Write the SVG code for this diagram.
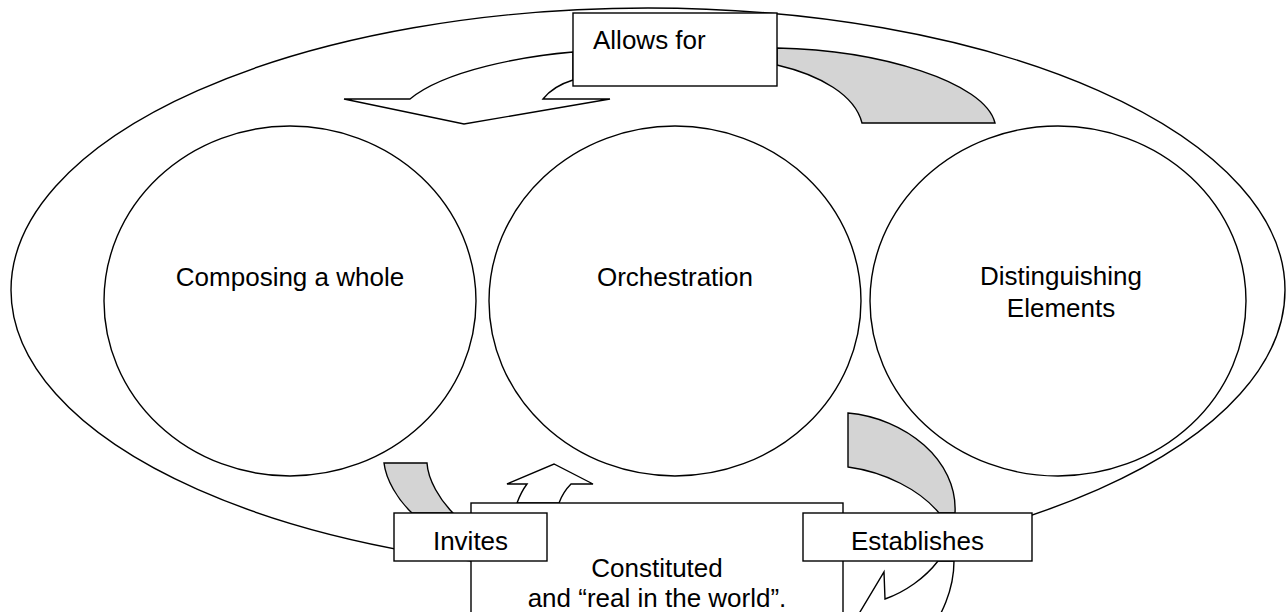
<svg xmlns="http://www.w3.org/2000/svg" width="1286" height="612" viewBox="0 0 1286 612">
<style>
.ln{fill:none;stroke:#000;stroke-width:1.4}
.wf{fill:#fff;stroke:#000;stroke-width:1.4;stroke-linejoin:miter}
.gf{fill:#d4d4d4;stroke:#000;stroke-width:1.4}
.t{font-family:"Liberation Sans",Arial,Helvetica,sans-serif;font-size:26px;fill:#000}
.c{text-anchor:middle}
</style>
<rect x="0" y="0" width="1286" height="612" fill="#fff"/>
<g id="outer">
<ellipse class="ln" cx="648" cy="290" rx="637" ry="282"/>
</g>
<g id="composing">
<ellipse class="wf" cx="290" cy="301" rx="186" ry="175"/>
<text class="t c" x="290" y="286">Composing a whole</text>
</g>
<g id="orchestration">
<ellipse class="wf" cx="675" cy="301" rx="186" ry="175"/>
<text class="t c" x="675" y="286">Orchestration</text>
</g>
<g id="distinguishing">
<ellipse class="wf" cx="1058" cy="301" rx="188" ry="175"/>
<text class="t c" x="1061" y="285">Distinguishing</text>
<text class="t c" x="1061" y="317">Elements</text>
</g>
<g id="connectors">
<path class="wf" d="M573,52 C525,56 445,70 410,99 L344,99 L464,124 L610,99 L543,99 C550,90 560,84 573,80 Z"/>
<path class="gf" d="M777,48 C880,50 985,82 995,123 L862,123 C855,95 820,75 777,65 Z"/>
<path class="gf" d="M384,463 L427,463 C428,480 440,500 453,513 L412,513 C398,500 386,480 384,463 Z"/>
<path class="wf" d="M517,503 Q521,492 527,484 L507,484 L554,464 L593,484 L571,484 Q563,492 559,503 Z"/>
<path class="gf" d="M848,413 L848,467 C885,472 920,490 939,513 L955,513 C958,460 905,418 848,413 Z"/>
<path class="wf" d="M938,561 C925,578 905,592 885,599 L884,572 L848,632 L925,640 C942,615 954,590 954,561 Z"/>
</g>
<g id="allows">
<rect class="wf" x="573" y="13" width="204" height="73"/>
<text class="t" x="593" y="49">Allows for</text>
</g>
<g id="constituted">
<rect class="wf" x="471" y="503" width="372" height="130"/>
<text class="t c" x="657" y="577">Constituted</text>
<text class="t c" x="657" y="607">and “real in the world”.</text>
</g>
<g id="invites">
<rect class="wf" x="394" y="513" width="153" height="48"/>
<text class="t c" x="470.5" y="550">Invites</text>
</g>
<g id="establishes">
<rect class="wf" x="803" y="513" width="229" height="48"/>
<text class="t c" x="917.5" y="550">Establishes</text>
</g>
</svg>
